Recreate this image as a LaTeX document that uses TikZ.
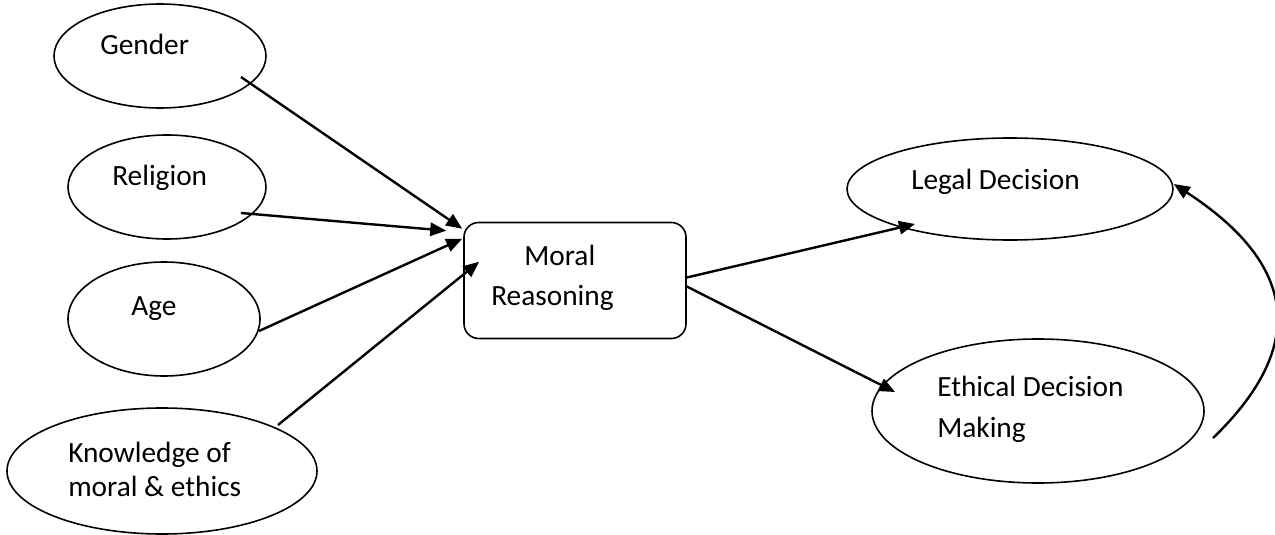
\documentclass[tikz,border=0pt]{standalone}
\usepackage{fontspec}
\setmainfont{Carlito}
\usepackage{tikz}
\usetikzlibrary{arrows.meta,shapes.geometric,calc}

\begin{document}
\begin{tikzpicture}[
  x=0.75pt, y=-0.75pt,
  font=\fontsize{22}{30}\selectfont,
  factor/.style={draw, ellipse, line width=1.2pt, inner sep=0pt},
  txt/.style={anchor=base west, inner sep=0pt},
  reasonbox/.style={draw, rounded corners=11pt, line width=1.2pt, inner sep=0pt,
                    minimum width=166.5pt, minimum height=87pt},
  arrow/.style={-{Triangle[length=12pt,width=10pt]}, line width=1.8pt}
]
\useasboundingbox (0,0) rectangle (1275,535);

% factors on the left
\node[factor, minimum width=159pt, minimum height=78pt] (gender) at (160,56) {};
\node[factor, minimum width=148.5pt, minimum height=78pt] (religion) at (167,187) {};
\node[factor, minimum width=144pt, minimum height=85.5pt] (age) at (164,319) {};
\node[factor, minimum width=232.5pt, minimum height=94.5pt] (knowledge) at (162,471) {};
\node[txt] (gendertxt) at (100,55) {Gender};
\node[txt] (religiontxt) at (112,185) {Religion};
\node[txt] (agetxt) at (131,315) {Age};
\node[txt] (knowtxt) at (68,462) {Knowledge of};
\node[txt] (knowtxtb) at (68,496) {moral \& ethics};

% central box
\node[reasonbox] (moral) at (575,280.5) {};
\node[txt] (moraltxt) at (524,265) {Moral};
\node[txt] (moraltxtb) at (491,305) {Reasoning};

% outcomes on the right
\node[factor, minimum width=244.5pt, minimum height=76.5pt] (legal) at (1010,189) {};
\node[factor, minimum width=249pt, minimum height=108pt] (ethical) at (1038,411) {};
\node[txt] (legaltxt) at (911,189) {Legal Decision};
\node[txt] (ethicaltxt) at (937,396) {Ethical Decision};
\node[txt] (ethicaltxtb) at (937,437) {Making};

\draw[arrow] ($(gender.center)+(81,21)$) -- ($(moral.north west)+(-1,7)$);
\draw[arrow] ($(religion.center)+(74,26)$) -- ($(moral.north west)+(-17,9)$);
\draw[arrow] ($(age.center)+(95,12)$) -- ($(moral.north west)+(-1,17)$);
\draw[arrow] ($(knowledge.center)+(116,-46)$) -- ($(moral.north west)+(16,40)$);
\draw[arrow] ($(moral.east)+(0,-3)$) -- ($(legal.center)+(-95,35)$);
\draw[arrow] ($(moral.east)+(0,6)$) -- ($(ethical.center)+(-143,-19)$);

\coordinate (loopstart) at (1213,438);
\draw[arrow] (loopstart) .. controls (1325,330) and (1275,250) .. ($(legal.east)+(0,-5)$);
\end{tikzpicture}
\end{document}
